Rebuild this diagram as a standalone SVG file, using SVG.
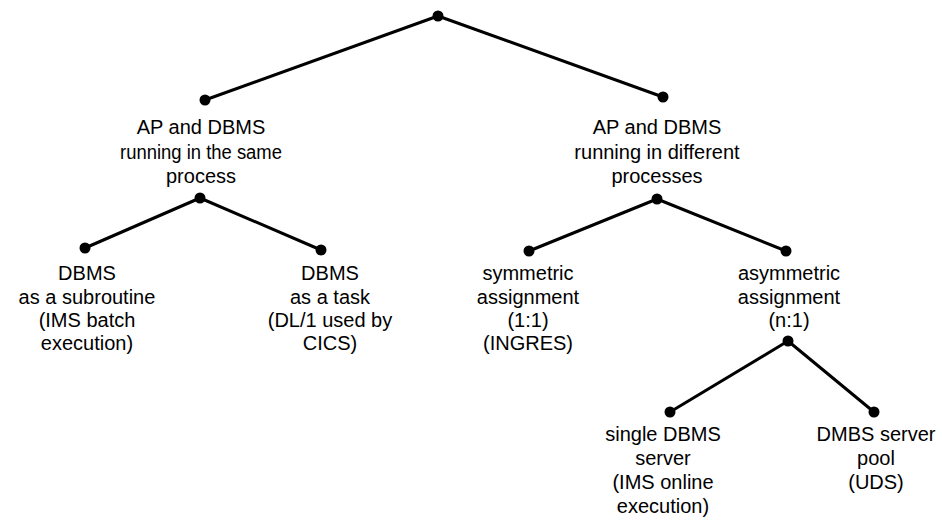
<svg xmlns="http://www.w3.org/2000/svg" width="942" height="524" viewBox="0 0 942 524">
<style>
.e{stroke:#000;stroke-width:3;stroke-linecap:round;fill:none}
.d{fill:#000}
text{font-family:"Liberation Sans",Arial,Helvetica,sans-serif;font-size:20px;fill:#000;text-anchor:middle}
</style>
<rect width="942" height="524" fill="#fff"/>
<g id="connectors">
<line class="e" x1="438" y1="16" x2="205" y2="100"/>
<line class="e" x1="438" y1="16" x2="663" y2="97"/>
<line class="e" x1="200" y1="198" x2="85" y2="248"/>
<line class="e" x1="200" y1="198" x2="321" y2="250"/>
<line class="e" x1="657" y1="199" x2="529" y2="251"/>
<line class="e" x1="657" y1="199" x2="786" y2="251"/>
<line class="e" x1="788" y1="341" x2="670" y2="412"/>
<line class="e" x1="788" y1="341" x2="874" y2="412"/>
</g>
<g id="root"><circle class="d" cx="438" cy="16" r="5.5"/></g>
<g id="same-process">
<circle class="d" cx="205" cy="100" r="5.5"/>
<text x="201" y="134">AP and DBMS</text>
<text x="201" y="159" textLength="162" lengthAdjust="spacingAndGlyphs">running in the same</text>
<text x="201" y="183">process</text>
<circle class="d" cx="200" cy="198" r="5.5"/>
</g>
<g id="different-processes">
<circle class="d" cx="663" cy="97" r="5.5"/>
<text x="657" y="134">AP and DBMS</text>
<text x="657" y="159">running in different</text>
<text x="657" y="183">processes</text>
<circle class="d" cx="657" cy="199" r="5.5"/>
</g>
<g id="subroutine">
<circle class="d" cx="85" cy="248" r="5.5"/>
<text x="87" y="280">DBMS</text>
<text x="87" y="304">as a subroutine</text>
<text x="87" y="327">(IMS batch</text>
<text x="87" y="350">execution)</text>
</g>
<g id="task">
<circle class="d" cx="321" cy="250" r="5.5"/>
<text x="330" y="280">DBMS</text>
<text x="330" y="304">as a task</text>
<text x="330" y="327">(DL/1 used by</text>
<text x="330" y="350">CICS)</text>
</g>
<g id="symmetric">
<circle class="d" cx="529" cy="251" r="5.5"/>
<text x="528" y="280">symmetric</text>
<text x="528" y="304">assignment</text>
<text x="528" y="327">(1:1)</text>
<text x="528" y="350">(INGRES)</text>
</g>
<g id="asymmetric">
<circle class="d" cx="786" cy="251" r="5.5"/>
<text x="789" y="280">asymmetric</text>
<text x="789" y="304">assignment</text>
<text x="789" y="327">(n:1)</text>
<circle class="d" cx="788" cy="341" r="5.5"/>
</g>
<g id="single-server">
<circle class="d" cx="670" cy="412" r="5.5"/>
<text x="663" y="441">single DBMS</text>
<text x="663" y="465">server</text>
<text x="663" y="489">(IMS online</text>
<text x="663" y="513">execution)</text>
</g>
<g id="server-pool">
<circle class="d" cx="874" cy="412" r="5.5"/>
<text x="876" y="441">DMBS server</text>
<text x="876" y="465">pool</text>
<text x="876" y="489">(UDS)</text>
</g>
</svg>
